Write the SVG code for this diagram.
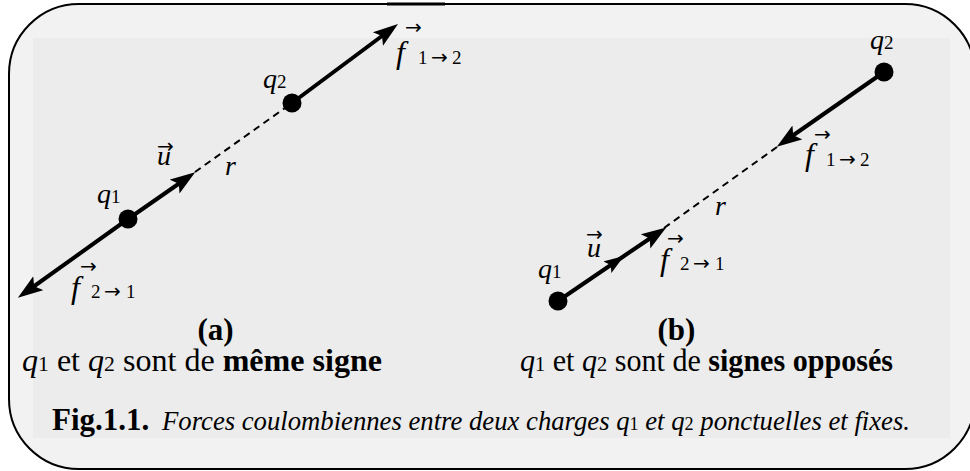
<svg xmlns="http://www.w3.org/2000/svg" width="970" height="471" viewBox="0 0 970 471">
<style>
  .t { font-family: "Liberation Serif", "Times New Roman", serif; fill: #000; }
  .it { font-style: italic; }
  .b { font-weight: bold; }
  .lbl { font-size: 28px; font-style: italic; }
  .fl { font-size: 32px; font-style: italic; }
  .sub { font-size: 19px; font-style: normal; }
  .arr { font-family: "DejaVu Sans", sans-serif; font-size: 20px; font-style: normal; font-weight: normal; }
  .vec { font-family: "DejaVu Sans", sans-serif; font-size: 20px; fill: #000; }
  .body { font-size: 31px; }
  .solid { stroke: #000; stroke-width: 4; fill: none; }
  .dash { stroke: #000; stroke-width: 2; stroke-dasharray: 7 5; fill: none; }
  .dot { fill: #000; }
</style>
<defs>
  <marker id="ah" markerUnits="userSpaceOnUse" markerWidth="25" markerHeight="19" viewBox="0 0 25 19" refX="15" refY="9.5" orient="auto">
    <path d="M0,1 L25,9.5 L0,18 L5,9.5 z" fill="#000"/>
  </marker>
  <marker id="am" markerUnits="userSpaceOnUse" markerWidth="20" markerHeight="14" viewBox="0 0 20 14" refX="20" refY="7" orient="auto">
    <path d="M0,0 L20,7 L0,14 L4,7 z" fill="#000"/>
  </marker>
</defs>

<g id="frame">
  <rect x="9" y="4" width="966" height="465" rx="70" ry="70" fill="#f2f2f2" stroke="#000" stroke-width="2"/>
  <rect x="33" y="38" width="917" height="400" fill="#ececec"/>
  <line x1="387" y1="4" x2="445" y2="4" stroke="#000" stroke-width="3"/>
</g>

<g id="connectors">
  <!-- panel a -->
  <line class="solid" x1="292" y1="103" x2="390" y2="30" marker-end="url(#ah)"/>
  <line class="solid" x1="128" y1="219" x2="26" y2="292" marker-end="url(#ah)"/>
  <line class="solid" x1="128" y1="219" x2="187" y2="178" marker-end="url(#ah)"/>
  <line class="dash" x1="195" y1="172" x2="292" y2="103"/>
  <!-- panel b -->
  <line class="solid" x1="884" y1="72" x2="785" y2="141" marker-end="url(#ah)"/>
  <line class="dash" x1="777" y1="147" x2="664" y2="228"/>
  <path class="solid" d="M558,301 L624,256 L658,233" marker-mid="url(#am)" marker-end="url(#ah)"/>
</g>

<g id="q1a">
  <circle class="dot" cx="128" cy="219" r="9.5"/>
  <text class="t lbl" x="97" y="203">q<tspan class="sub">1</tspan></text>
</g>
<g id="q2a">
  <circle class="dot" cx="292" cy="103" r="9.5"/>
  <text class="t lbl" x="263" y="88">q<tspan class="sub">2</tspan></text>
</g>
<g id="q1b">
  <circle class="dot" cx="558" cy="301" r="9.5"/>
  <text class="t lbl" x="538" y="278">q<tspan class="sub">1</tspan></text>
</g>
<g id="q2b">
  <circle class="dot" cx="884" cy="72" r="9.5"/>
  <text class="t lbl" x="870" y="49">q<tspan class="sub">2</tspan></text>
</g>

<g id="labels">
  <!-- panel a -->
  <text class="vec" x="405" y="34">→</text>
  <text class="t fl" x="396" y="63">f</text>
  <text class="t sub" y="64"><tspan x="418">1</tspan><tspan class="arr" x="431">→</tspan><tspan x="452">2</tspan></text>

  <text class="vec" x="80" y="273">→</text>
  <text class="t fl" x="71" y="298">f</text>
  <text class="t sub" y="298"><tspan x="91">2</tspan><tspan class="arr" x="104">→</tspan><tspan x="126">1</tspan></text>

  <text class="vec" x="157" y="153">→</text>
  <text class="t lbl" x="157" y="165">u</text>
  <text class="t lbl" x="225" y="175">r</text>

  <!-- panel b -->
  <text class="vec" x="814" y="141">→</text>
  <text class="t fl" x="805" y="165">f</text>
  <text class="t sub" y="166"><tspan x="826">1</tspan><tspan class="arr" x="839">→</tspan><tspan x="860">2</tspan></text>

  <text class="vec" x="667" y="245">→</text>
  <text class="t fl" x="660" y="270">f</text>
  <text class="t sub" y="270"><tspan x="680">2</tspan><tspan class="arr" x="693">→</tspan><tspan x="715">1</tspan></text>

  <text class="vec" x="586" y="241">→</text>
  <text class="t lbl" x="587" y="257">u</text>
  <text class="t lbl" x="715" y="215">r</text>
</g>

<g id="captions">
  <text class="t body b" x="215.5" y="340" text-anchor="middle">(a)</text>
  <text class="t body" x="22" y="371" textLength="360" lengthAdjust="spacingAndGlyphs"><tspan class="it">q</tspan><tspan font-size="21">1</tspan> et <tspan class="it">q</tspan><tspan font-size="21">2</tspan> sont de <tspan class="b">même signe</tspan></text>
  <text class="t body b" x="676.5" y="340" text-anchor="middle">(b)</text>
  <text class="t body" x="520" y="371" textLength="373" lengthAdjust="spacingAndGlyphs"><tspan class="it">q</tspan><tspan font-size="21">1</tspan> et <tspan class="it">q</tspan><tspan font-size="21">2</tspan> sont de <tspan class="b">signes opposés</tspan></text>
  <text class="t b" font-size="31" x="52" y="430">Fig.1.1.</text>
  <text class="t it" font-size="28" x="162" y="430" textLength="748" lengthAdjust="spacingAndGlyphs">Forces coulombiennes entre deux charges q<tspan font-size="19" font-style="normal">1</tspan> et q<tspan font-size="19" font-style="normal">2</tspan> ponctuelles et fixes.</text>
</g>
</svg>
